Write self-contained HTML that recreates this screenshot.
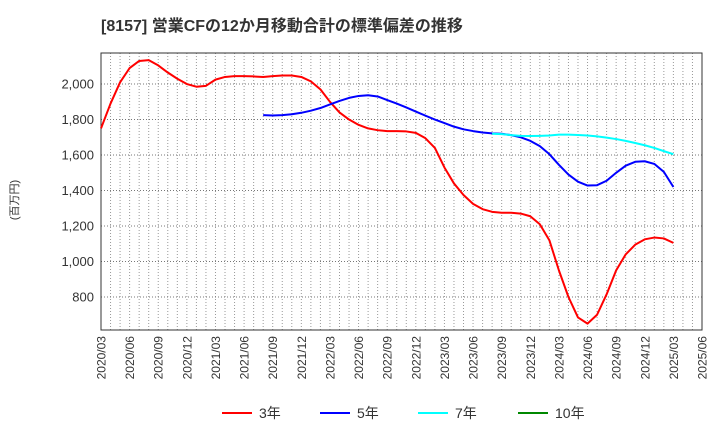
<!DOCTYPE html>
<html><head><meta charset="utf-8"><style>
body{margin:0;background:#fff;font-family:"Liberation Sans","Noto Sans CJK JP",sans-serif}
</style></head><body>
<svg id="c" width="720" height="440" xmlns="http://www.w3.org/2000/svg">
<text x="101" y="31" font-size="16" font-weight="bold" fill="#333" font-family="Liberation Sans, Noto Sans CJK JP, sans-serif">[8157]  営業CFの12か月移動合計の標準偏差の推移</text>
<text transform="translate(18,200) rotate(-90)" text-anchor="middle" font-size="11" fill="#333" font-family="Liberation Sans, Noto Sans CJK JP, sans-serif">(百万円)</text>
<g id="grid"></g><g id="axes"></g><g id="series"></g><g id="legend"></g>
</svg>
<script>
const yTicks=[800,1000,1200,1400,1600,1800,2000];
const xLabels=["2020/03","2020/06","2020/09","2020/12","2021/03","2021/06","2021/09","2021/12","2022/03","2022/06","2022/09","2022/12","2023/03","2023/06","2023/09","2023/12","2024/03","2024/06","2024/09","2024/12","2025/03","2025/06"];
const s3=[1750,1890,2010,2090,2130,2135,2105,2065,2030,2000,1985,1990,2025,2040,2045,2045,2043,2040,2045,2048,2048,2040,2015,1970,1900,1840,1800,1770,1750,1740,1735,1735,1733,1725,1695,1640,1530,1440,1375,1325,1295,1280,1275,1275,1270,1255,1210,1120,950,800,685,650,700,815,950,1040,1095,1125,1135,1130,1105];
const s3start=0;
const s5=[1825,1823,1825,1830,1838,1850,1865,1885,1905,1922,1933,1937,1930,1910,1890,1868,1845,1822,1800,1780,1760,1745,1735,1727,1722,1720,1712,1700,1680,1650,1605,1545,1490,1450,1428,1430,1455,1500,1540,1562,1565,1550,1505,1420];
const s5start=17;
const s7=[1720,1718,1712,1708,1707,1708,1710,1715,1715,1713,1710,1705,1698,1690,1680,1668,1655,1640,1622,1605];
const s7start=41;
const s10=[];
const s10start=0;
const L=101,R=702,T=53,B=330,NM=63,ymin=614,ymax=2175;
const X=i=>L+(R-L)*i/NM, Y=v=>B-(v-ymin)/(ymax-ymin)*(B-T);
const ns="http://www.w3.org/2000/svg";
function mk(t,a,p){const e=document.createElementNS(ns,t);for(const k in a)e.setAttribute(k,a[k]);p.appendChild(e);return e;}
const g=document.getElementById('grid'),ax=document.getElementById('axes'),se=document.getElementById('series'),lg=document.getElementById('legend');
for(let i=1;i<NM;i++){const l=mk('line',{x1:X(i),x2:X(i),y1:T,y2:B,stroke:'#999','stroke-dasharray':'1,2','stroke-width':1},g);

}
yTicks.forEach(v=>{const l=mk('line',{x1:L,x2:R,y1:Y(v),y2:Y(v),stroke:'#777','stroke-dasharray':'1,2'},g);


const t=mk('text',{x:L-7,y:Y(v)+4.5,'text-anchor':'end','font-size':13,fill:'#333'},ax);t.textContent=v.toLocaleString('en-US');

});
xLabels.forEach((s,k)=>{const x=X(k*3);const t=mk('text',{transform:`translate(${x+4.5},336) rotate(-90)`,'text-anchor':'end','font-size':12,fill:'#333'},ax);t.textContent=s;

});
const fr=mk('rect',{x:L,y:T,width:R-L,height:B-T,fill:'none',stroke:'#333'},ax);


function line(d,st,c,n){if(!d.length)return;const p=mk('polyline',{points:d.map((v,i)=>X(st+i)+','+Y(v)).join(' '),fill:'none',stroke:c,'stroke-width':2,'stroke-linejoin':'round'},se);

}
line(s3,s3start,'#f00','series-3y');line(s5,s5start,'#00f','series-5y');line(s7,s7start,'#0ff','series-7y');line(s10,s10start,'#080','series-10y');
[['3年','#f00',222],['5年','#00f',320],['7年','#0ff',418],['10年','#080',518]].forEach(([n,c,x])=>{
const gg=mk('g',{},lg);


mk('line',{x1:x,x2:x+30,y1:413,y2:413,stroke:c,'stroke-width':2},gg);
const t=mk('text',{x:x+37,y:418,'font-size':14,fill:'#333'},gg);t.textContent=n;});
</script>
</body></html>
